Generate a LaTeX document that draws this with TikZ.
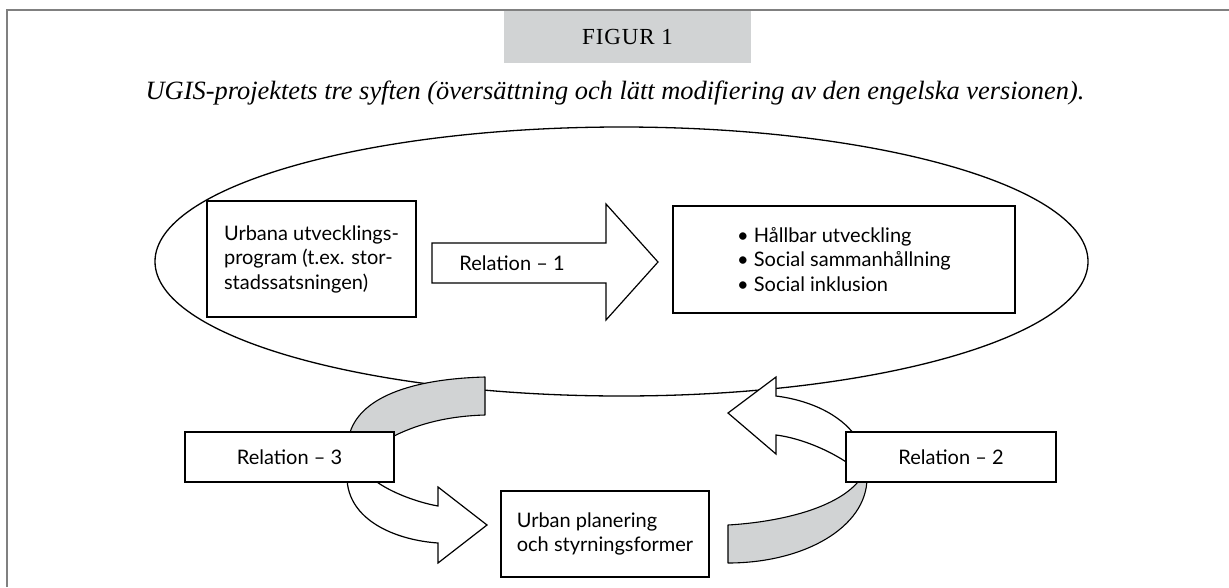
\documentclass[tikz,border=0pt]{standalone}
\usepackage{fontspec}
\setmainfont{Lato}
\newfontfamily\titlefont{Liberation Serif}
\newfontfamily\figfont[LetterSpace=4]{Liberation Serif}
\usetikzlibrary{shapes.geometric}
\definecolor{bandgray}{HTML}{D1D3D4}
\definecolor{framegray}{HTML}{808080}
\begin{document}
\begin{tikzpicture}[x=1pt,y=-1pt,
  box/.style={draw=black, line width=1.6pt, fill=white, align=left,
    font=\fontsize{20}{24.5}\selectfont, inner sep=0pt},
  band/.style={draw=black, line width=1.1pt, fill=bandgray, line join=round},
  blockarrow/.style={draw=black, line width=1.2pt, fill=white, line join=miter},
]
\useasboundingbox (0,0) rectangle (1229,587);
\fill[white] (0,0) rectangle (1229,587);
\draw[framegray, line width=2pt] (7,587) -- (7,9.5) -- (1229,9.5);

\node[fill=bandgray, minimum width=247pt, minimum height=52pt, inner sep=0pt]
  (figlabel) at (627.5,37) {\figfont\fontsize{23}{26}\selectfont FIGUR 1};
\node[inner sep=0pt] (title) at (615,93)
  {\titlefont\itshape\fontsize{26.4}{30}\selectfont UGIS-projektets tre syften (översättning och lätt modifiering av den engelska versionen).};

% outer ellipse
\node[ellipse, draw=black, line width=1.3pt, minimum width=933pt, minimum height=269pt, inner sep=0pt]
  (scope) at (621.5,261.5) {};

% gray band from Relation 3 up to the ellipse
\draw[band] (349,436) .. controls (358,398) and (410,379) .. (485,377)
  -- (485,415) .. controls (450,416) and (420,423) .. (394,436) -- cycle;

% white arrow from Relation 3 to Urban planering
\draw[blockarrow] (347,478) .. controls (348,520) and (395,540) .. (438,543)
  -- (438,563) -- (487,525) -- (438,487) -- (438,506)
  .. controls (415,502) and (385,490) .. (372,478) -- cycle;

% gray band from Urban planering to Relation 2
\draw[band] (728,525) .. controls (780,522) and (840,508) .. (861,478)
  -- (867,478) .. controls (867,527) and (804.5,563) .. (728,563) -- cycle;

% white arrow from Relation 2 up to the ellipse
\draw[blockarrow] (858,440) .. controls (845,418) and (815,401) .. (776,396)
  -- (776,377) -- (728,413) -- (776,454) -- (776,435)
  .. controls (800,438) and (830,450) .. (852,466) -- cycle;

% straight arrow Relation 1
\draw[blockarrow] (432,243) -- (606,243) -- (606,204) -- (658,262)
  -- (606,320) -- (606,283) -- (432,283) -- cycle;
\node[font=\fontsize{20}{24.5}\selectfont, inner sep=0pt] (rel1) at (512,263) {Relation – 1};

% boxes
\node[box, minimum width=209pt, minimum height=116pt] (prog) at (311.5,259)
  {Urbana utvecklings-\\program (t.ex. stor-\\stadssatsningen)};
\node[box, minimum width=342pt, minimum height=107pt] (goals) at (844,259.5)
  {• Hållbar utveckling\\• Social sammanhållning\\• Social inklusion};
\node[box, minimum width=209pt, minimum height=50pt] (rel3) at (289.5,457) {Relation – 3};
\node[box, minimum width=210pt, minimum height=50pt] (rel2) at (951,457) {Relation – 2};
\node[box, minimum width=208pt, minimum height=86pt] (urban) at (605,534)
  {Urban planering\\och styrningsformer};
\end{tikzpicture}
\end{document}
